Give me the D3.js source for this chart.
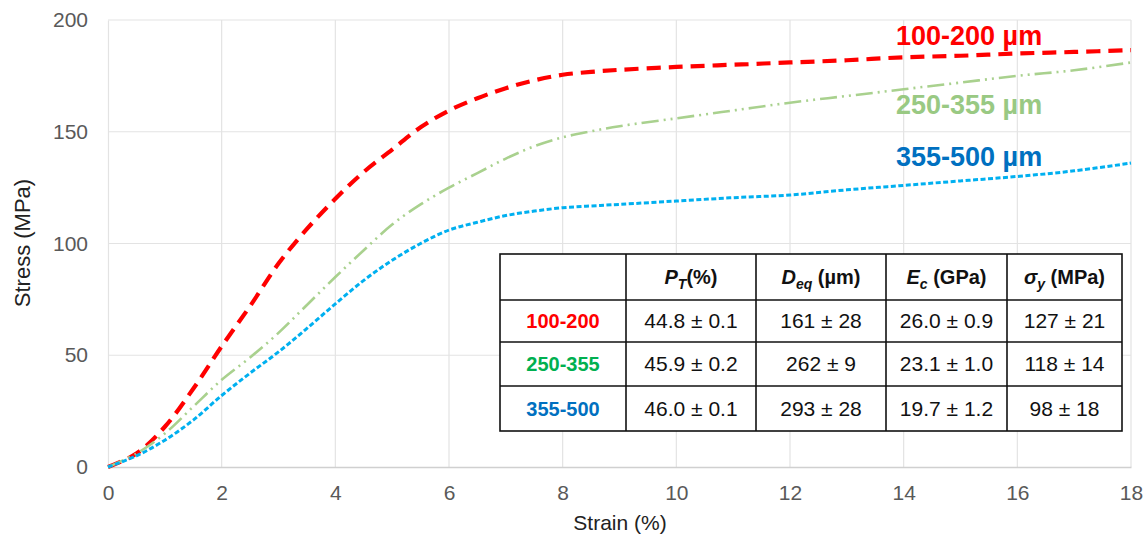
<!DOCTYPE html>
<html>
<head>
<meta charset="utf-8">
<script src="https://cdn.jsdelivr.net/npm/d3@7"></script>
<style>
  body { margin: 0; background: #fff; }
  svg { font-family: "Liberation Sans", Arial, sans-serif; }
</style>
</head>
<body>
<div id="chart"></div>
<script>
// strain (%) sample positions and stress (MPa) readings per size range
var strain = [0, 0.5, 1, 1.5, 2, 2.5, 3, 3.5, 4, 4.5, 5, 5.5, 6, 6.5, 7, 7.5, 8, 8.5, 9, 10, 11, 12, 13, 14, 15, 16, 17, 18]
var stress100 = [0, 6, 18, 35, 54, 72, 91, 106.5, 120, 132, 142, 152, 159.5, 165, 169.5, 173, 175.5, 176.8, 177.7, 179, 180, 181, 182, 183.3, 184, 185, 185.7, 186.5]
var stress250 = [0, 6, 15, 27, 39, 49, 60, 72.5, 85, 97, 108.5, 117.5, 125, 131.5, 138, 143.5, 147.5, 150.2, 152.5, 156, 159.5, 163, 166, 169, 172, 175, 177.5, 181]
var stress355 = [0, 5, 12, 21, 32, 42, 51.5, 62, 73, 83.5, 92.5, 100, 106, 109.5, 112.5, 114.5, 116, 116.8, 117.5, 119, 120.5, 121.7, 124, 126, 128, 130, 132.5, 136]

var seriesNames = ["100-200 µm", "250-355 µm", "355-500 µm"]
var xTicks = [0, 2, 4, 6, 8, 10, 12, 14, 16, 18]
var yTicks = [0, 50, 100, 150, 200]

var tableRows = ["100-200", "250-355", "355-500"]
var colPT = ["44.8 ± 0.1", "45.9 ± 0.2", "46.0 ± 0.1"]
var colDeq = ["161 ± 28", "262 ± 9", "293 ± 28"]
var colEc = ["26.0 ± 0.9", "23.1 ± 1.0", "19.7 ± 1.2"]
var colSy = ["127 ± 21", "118 ± 14", "98 ± 18"]

var width = 1148
var height = 536

var svg = d3.select('#chart').append('svg')
  .attr('width', width).attr('height', height)

var x = d3.scaleLinear().domain([0, 18]).range([108, 1131])
var y = d3.scaleLinear().domain([0, 200]).range([467, 20])

// gridlines
svg.append('g').selectAll('line.h')
  .data(yTicks.slice(1)).enter().append('line')
  .attr('x1', x(0)).attr('x2', x(18))
  .attr('y1', function(d) { return y(d) }).attr('y2', function(d) { return y(d) })
  .attr('stroke', '#e3e3e3').attr('stroke-width', 1.2)

svg.append('g').selectAll('line.v')
  .data(xTicks.slice(1)).enter().append('line')
  .attr('x1', function(d) { return x(d) }).attr('x2', function(d) { return x(d) })
  .attr('y1', y(0)).attr('y2', y(200))
  .attr('stroke', '#e3e3e3').attr('stroke-width', 1.2)

// axes
var xAxis = svg.append('g')
  .attr('transform', 'translate(0,' + y(0) + ')')
  .call(d3.axisBottom(x).tickValues(xTicks).tickSize(0).tickPadding(18))
xAxis.select('.domain').attr('stroke', '#d0d0d0').attr('stroke-width', 1.5)

var yAxis = svg.append('g')
  .attr('transform', 'translate(' + x(0) + ',0)')
  .call(d3.axisLeft(y).tickValues(yTicks).tickSize(0).tickPadding(20))
yAxis.select('.domain').attr('stroke', '#e3e3e3').attr('stroke-width', 1.2)

svg.selectAll('.tick text')
  .attr('font-size', 21).attr('fill', '#595959')
  .style('font-family', '"Liberation Sans", Arial, sans-serif')

svg.append('text')
  .attr('x', 620).attr('y', 530)
  .attr('text-anchor', 'middle')
  .attr('font-size', 21).attr('fill', '#222')
  .text('Strain (%)')

svg.append('text')
  .attr('transform', 'translate(30,243) rotate(-90)')
  .attr('text-anchor', 'middle')
  .attr('font-size', 22).attr('fill', '#222')
  .text('Stress (MPa)')

// curves
var series = [
  { values: stress100, color: '#ff0000', width: 4.2, dash: '14,8' },
  { values: stress250, color: '#a9d18e', width: 2.6, dash: '17,5,2,5,2,5' },
  { values: stress355, color: '#00b0f0', width: 3, dash: '5,2.5' }
]

var line = d3.line()
  .x(function(d) { return x(d[0]) })
  .y(function(d) { return y(d[1]) })
  .curve(d3.curveCatmullRom.alpha(0.5))

svg.append('g').selectAll('path')
  .data(series).enter().append('path')
  .attr('d', function(s) { return line(strain.map(function(v, i) { return [v, s.values[i]] })) })
  .attr('fill', 'none')
  .attr('stroke', function(s) { return s.color })
  .attr('stroke-width', function(s) { return s.width })
  .attr('stroke-dasharray', function(s) { return s.dash })

// series labels
var labelPos = [[896, 45], [896, 114], [896, 166]]
var labelColors = ['#ff0000', '#99c983', '#0070c0']
svg.append('g').selectAll('text')
  .data(seriesNames).enter().append('text')
  .attr('x', function(d, i) { return labelPos[i][0] })
  .attr('y', function(d, i) { return labelPos[i][1] })
  .attr('font-size', 27).attr('font-weight', 'bold')
  .attr('fill', function(d, i) { return labelColors[i] })
  .text(function(d) { return d })

// table
var colX = [500, 626, 756, 886, 1007, 1122]
var rowY = [254, 300, 342, 386, 431]
var table = svg.append('g')

table.append('rect')
  .attr('x', colX[0]).attr('y', rowY[0])
  .attr('width', colX[5] - colX[0]).attr('height', rowY[4] - rowY[0])
  .attr('fill', '#fff').attr('stroke', '#111').attr('stroke-width', 1.6)

table.selectAll('line.c').data(colX.slice(1, 5)).enter().append('line')
  .attr('x1', function(d) { return d }).attr('x2', function(d) { return d })
  .attr('y1', rowY[0]).attr('y2', rowY[4])
  .attr('stroke', '#111').attr('stroke-width', 1.6)

table.selectAll('line.r').data(rowY.slice(1, 4)).enter().append('line')
  .attr('x1', colX[0]).attr('x2', colX[5])
  .attr('y1', function(d) { return d }).attr('y2', function(d) { return d })
  .attr('stroke', '#111').attr('stroke-width', 1.6)

function cx(i) { return (colX[i] + colX[i + 1]) / 2 }
function cy(j) { return (rowY[j] + rowY[j + 1]) / 2 + 7 }

// header cells with italic symbols and subscripts
var headers = [
  { sym: 'P', sub: 'T', rest: '(%)' },
  { sym: 'D', sub: 'eq', rest: ' (µm)' },
  { sym: 'E', sub: 'c', rest: ' (GPa)' },
  { sym: 'σ', sub: 'y', rest: ' (MPa)' }
]
headers.forEach(function(h, i) {
  var t = table.append('text')
    .attr('x', cx(i + 1)).attr('y', cy(0))
    .attr('text-anchor', 'middle')
    .attr('font-size', 20).attr('font-weight', 'bold').attr('fill', '#111')
  t.append('tspan').attr('font-style', 'italic').text(h.sym)
  t.append('tspan').attr('font-style', 'italic').attr('font-size', 14).attr('dy', 5).text(h.sub)
  t.append('tspan').attr('dy', -5).text(h.rest)
})

var rowColors = ['#ff0000', '#00b050', '#0070c0']
tableRows.forEach(function(r, j) {
  table.append('text')
    .attr('x', cx(0)).attr('y', cy(j + 1))
    .attr('text-anchor', 'middle')
    .attr('font-size', 20).attr('font-weight', 'bold')
    .attr('fill', rowColors[j]).text(r)
  ;[colPT, colDeq, colEc, colSy].forEach(function(col, i) {
    table.append('text')
      .attr('x', cx(i + 1)).attr('y', cy(j + 1))
      .attr('text-anchor', 'middle')
      .attr('font-size', 21).attr('fill', '#111')
      .text(col[j])
  })
})
</script>
</body>
</html>
